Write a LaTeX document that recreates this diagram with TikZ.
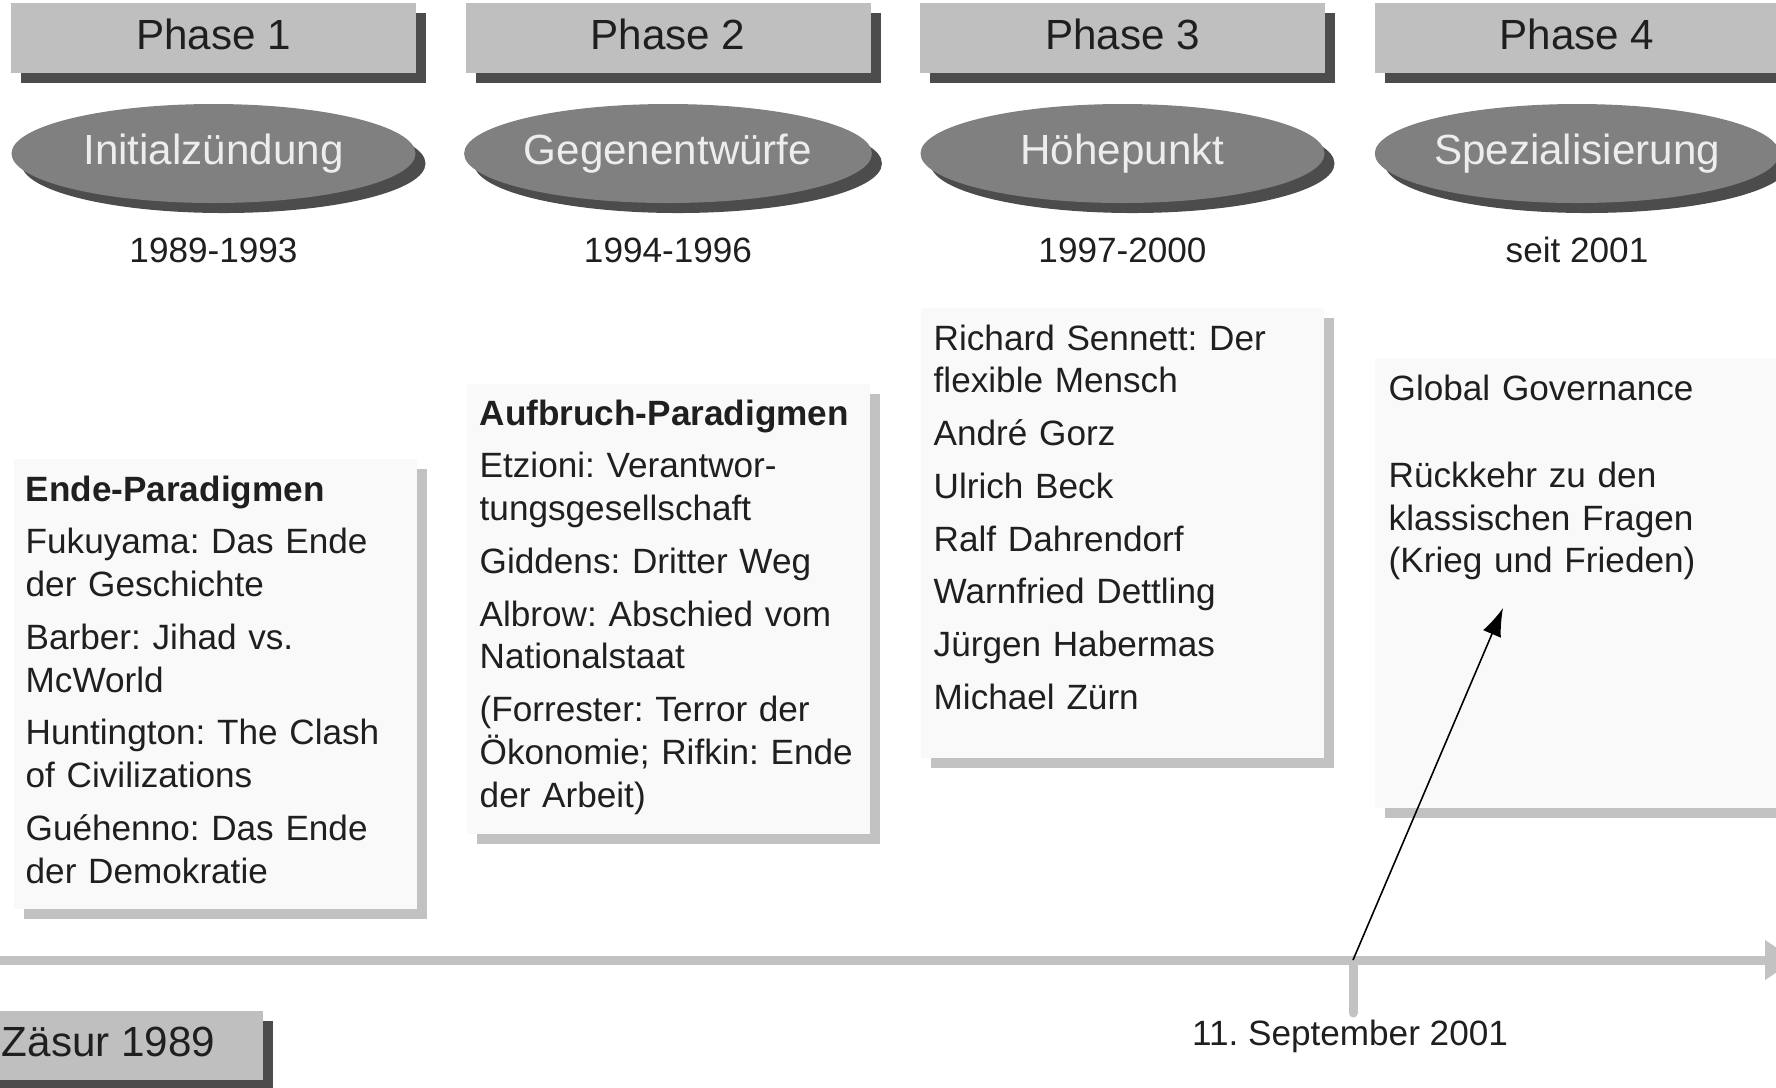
\documentclass[tikz,border=0pt]{standalone}
\usepackage{fontspec}
\setmainfont{Liberation Sans}
\usetikzlibrary{shapes.geometric,shadows,arrows.meta}
\frenchspacing

\definecolor{phasefill}{gray}{0.75}
\definecolor{shadowdark}{gray}{0.30}
\definecolor{ovalfill}{gray}{0.50}
\definecolor{ovaltext}{gray}{0.93}
\definecolor{cardfill}{gray}{0.975}
\definecolor{cardshadow}{gray}{0.76}
\definecolor{linegray}{gray}{0.76}
\definecolor{inktext}{gray}{0.12}

% gap between two entries of a card
\newcommand{\nextentry}{\\[2.8pt]}

\begin{document}
\begin{tikzpicture}[
    phase/.style={rectangle, fill=phasefill, text=inktext, minimum width=4.05cm, minimum height=0.70cm, inner sep=0pt,
        text depth=0.07cm, font=\fontsize{12}{14}\selectfont,
        drop shadow={shadow xshift=0.1cm, shadow yshift=-0.1cm, fill=shadowdark, opacity=1}},
    oval/.style={ellipse, fill=ovalfill, text=ovaltext, minimum width=4.04cm, minimum height=0.99cm, inner sep=0pt,
        font=\fontsize{12}{14}\selectfont,
        drop shadow={shadow xshift=0.1cm, shadow yshift=-0.1cm, fill=shadowdark, opacity=1}},
    years/.style={anchor=base, text=inktext, font=\fontsize{10}{12}\selectfont},
    card/.style={rectangle, fill=cardfill, anchor=north west, minimum width=4.03cm, minimum height=4.50cm, inner sep=0pt,
        drop shadow={shadow xshift=0.1cm, shadow yshift=-0.1cm, fill=cardshadow, opacity=1}},
    cardtext/.style={anchor=base west, text=inktext, text width=3.9cm, align=left, inner sep=0pt,
        font=\fontsize{10}{12.2}\selectfont},
    timeline/.style={draw=linegray, line width=0.09cm, -{Triangle[length=0.3cm,width=0.38cm]}},
    tick/.style={draw=linegray, line width=0.09cm, line cap=round},
    pointer/.style={draw=black, line width=0.45pt, -{Latex[length=8pt,width=5.5pt]}}
]
\useasboundingbox (0,0) rectangle (17.76,-10.87);
\clip (0,0) rectangle (17.76,-10.87);

% Phase headers
\node[phase] (phase1) at (2.135,-0.38) {Phase 1};
\node[phase] (phase2) at (6.680,-0.38) {Phase 2};
\node[phase] (phase3) at (11.225,-0.38) {Phase 3};
\node[phase] (phase4) at (15.770,-0.38) {Phase 4};

% Phase names
\node[oval] (initial) at (2.135,-1.535) {Initialzündung};
\node[oval] (gegen) at (6.680,-1.535) {Gegenentwürfe};
\node[oval] (hoehe) at (11.225,-1.535) {Höhepunkt};
\node[oval] (spezial) at (15.770,-1.535) {Spezialisierung};

% Periods
\node[years] (years1) at (2.135,-2.62) {1989-1993};
\node[years] (years2) at (6.680,-2.62) {1994-1996};
\node[years] (years3) at (11.225,-2.62) {1997-2000};
\node[years] (years4) at (15.770,-2.62) {seit 2001};

% Cards
\node[card] (card1) at (0.13,-4.58) {};
\node[card] (card2) at (4.66,-3.83) {};
\node[card] (card3) at (9.20,-3.07) {};
\node[card] (card4) at (13.74,-3.57) {};

\node[cardtext] (text1) at ([xshift=0.12cm, yshift=-0.43cm]card1.north west) {%
    \textbf{Ende-Paradigmen}\nextentry
    Fukuyama: Das Ende\\ der Geschichte\nextentry
    Barber: Jihad vs.\\ McWorld\nextentry
    Huntington: The Clash\\ of Civilizations\nextentry
    Guéhenno: Das Ende\\ der Demokratie};
\node[cardtext] (text2) at ([xshift=0.13cm, yshift=-0.42cm]card2.north west) {%
    \textbf{Aufbruch-Paradigmen}\nextentry
    Etzioni: Verantwor-\\ tungsgesellschaft\nextentry
    Giddens: Dritter Weg\nextentry
    Albrow: Abschied vom\\ Nationalstaat\nextentry
    (Forrester: Terror der\\ Ökonomie; Rifkin: Ende\\ der Arbeit)};
\node[cardtext] (text3) at ([xshift=0.13cm, yshift=-0.43cm]card3.north west) {%
    Richard Sennett: Der\\ flexible Mensch\nextentry
    André Gorz\nextentry
    Ulrich Beck\nextentry
    Ralf Dahrendorf\nextentry
    Warnfried Dettling\nextentry
    Jürgen Habermas\nextentry
    Michael Zürn};
\node[cardtext] (text4) at ([xshift=0.14cm, yshift=-0.43cm]card4.north west) {%
    Global Governance\\[12.6pt]
    Rückkehr zu den\\ klassischen Fragen\\ (Krieg und Frieden)};

% Time axis
\coordinate (axisstart) at (-0.1,-9.60);
\coordinate (axisend) at (17.95,-9.60);
\coordinate (sept) at (13.53,-9.60);
\coordinate (septtick) at (13.53,-10.13);
\coordinate (turn) at (15.03,-6.08);
\draw[timeline] (axisstart) -- (axisend);
\draw[tick] (sept) -- (septtick);
\node[years] (septlabel) at (13.50,-10.45) {11. September 2001};
\draw[pointer] (sept) -- (turn);

% Starting point
\node[phase, minimum width=3.09cm, minimum height=0.69cm] (caesura) at (1.085,-10.455) {Zäsur 1989};

\end{tikzpicture}
\end{document}
